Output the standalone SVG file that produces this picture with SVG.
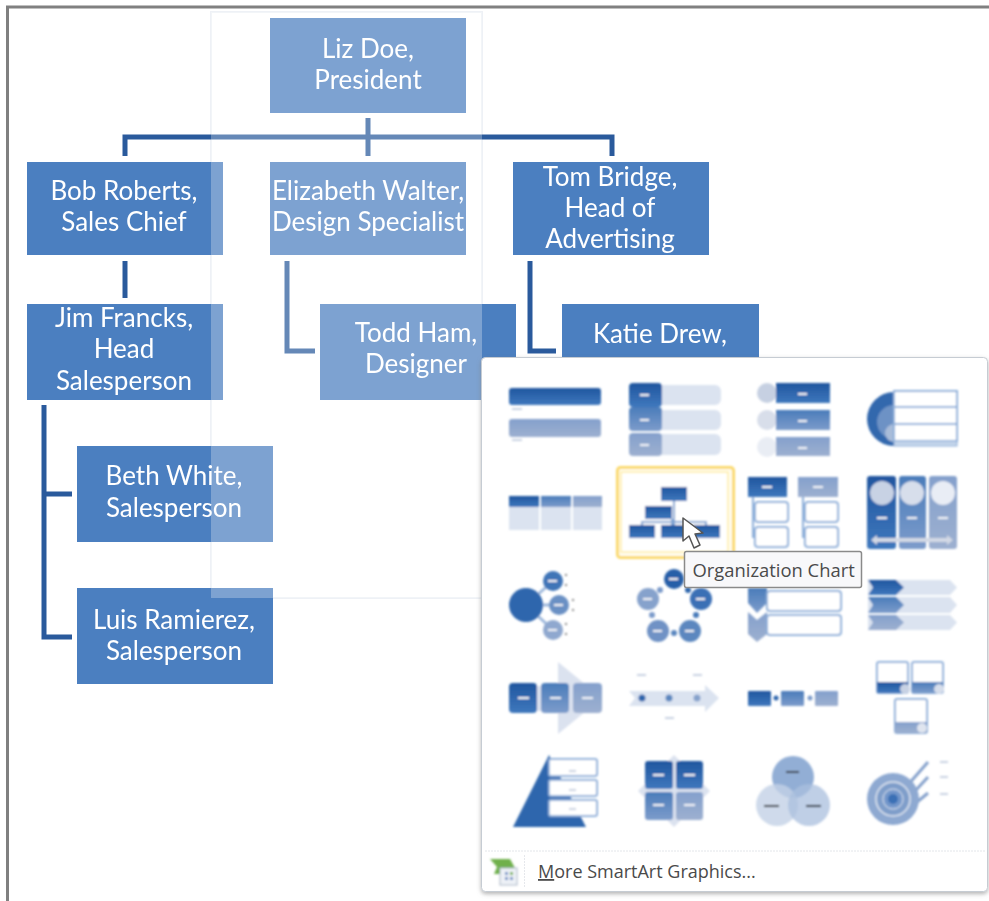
<svg xmlns="http://www.w3.org/2000/svg" width="989" height="901" viewBox="0 0 989 901">
<style>
.n{fill:#4b7fc0}
.t{font-family:Lato,"Liberation Sans",sans-serif;font-size:26px;fill:#fff;text-anchor:middle}
.c{fill:none;stroke:#2a5a9c;stroke-width:5}
.d{fill:url(#g1)}.m{fill:url(#g2)}.l{fill:url(#g3)}
.p{fill:#dbe3f0}.w{fill:#fff;stroke:#8fb0da;stroke-width:2}
.k{fill:#f2f4f8}.s{fill:#c9d2e2}
.u{font-family:"Open Sans","Liberation Sans",sans-serif;fill:#4a4a4a}
</style>
<defs>
<linearGradient id="g1" x1="0" y1="0" x2="0" y2="1"><stop offset="0" stop-color="#20569f"/><stop offset="1" stop-color="#3f78bd"/></linearGradient>
<linearGradient id="g2" x1="0" y1="0" x2="0" y2="1"><stop offset="0" stop-color="#4a7cba"/><stop offset="1" stop-color="#7d9ccb"/></linearGradient>
<linearGradient id="g3" x1="0" y1="0" x2="0" y2="1"><stop offset="0" stop-color="#84a0cc"/><stop offset="1" stop-color="#9db0d0"/></linearGradient>
<filter id="b" x="-5%" y="-5%" width="110%" height="110%"><feGaussianBlur stdDeviation="0.8"/></filter>
<filter id="b2" x="-5%" y="-5%" width="110%" height="110%"><feGaussianBlur stdDeviation="0.35"/></filter>
<filter id="sh" x="-3%" y="-3%" width="106%" height="106%"><feDropShadow dx="0" dy="2" stdDeviation="2" flood-color="#777" flood-opacity=".55"/></filter>
</defs>
<rect width="989" height="901" fill="#fff"/>
<path d="M7.500 901V7H989" fill="none" stroke="#808080" stroke-width="3"/>
<rect id="fade-edge" x="211" y="12" width="271" height="586" fill="none" stroke="#eef1f6" stroke-width="2"/>

<g id="connectors" filter="url(#b2)">
<path class="c" d="M125 156V137H612V156M368 118V156"/>
<path class="c" d="M125 261V298"/>
<path class="c" d="M287 261V351H315"/>
<path class="c" d="M530 261V351H556"/>
<path class="c" d="M44 405V637H72M44 494H72"/>
</g>
<g id="liz"><rect class="n" x="270" y="18" width="196" height="95"/></g>
<g id="bob"><rect class="n" x="27" y="162" width="196" height="93"/></g>
<g id="elizabeth"><rect class="n" x="270" y="162" width="196" height="93"/></g>
<g id="tom"><rect class="n" x="513" y="162" width="196" height="93"/></g>
<g id="jim"><rect class="n" x="27" y="304" width="196" height="96"/></g>
<g id="todd"><rect class="n" x="320" y="304" width="196" height="96"/></g>
<g id="katie"><rect class="n" x="562" y="304" width="197" height="96"/></g>
<g id="beth"><rect class="n" x="77" y="446" width="196" height="96"/></g>
<g id="luis"><rect class="n" x="77" y="588" width="196" height="96"/></g>
<rect id="fade" x="211" y="12" width="271" height="586" fill="#fff" fill-opacity=".28"/>
<g id="labels" filter="url(#b2)">
<text class="t" x="368" y="58">Liz Doe,</text><text class="t" x="368" y="89">President</text>
<text class="t" x="124" y="200">Bob Roberts,</text><text class="t" x="124" y="231">Sales Chief</text>
<text class="t" x="368" y="200">Elizabeth Walter,</text><text class="t" x="368" y="231">Design Specialist</text>
<text class="t" x="610" y="186">Tom Bridge,</text><text class="t" x="610" y="217">Head of</text><text class="t" x="610" y="248">Advertising</text>
<text class="t" x="124" y="327">Jim Francks,</text><text class="t" x="124" y="358">Head</text><text class="t" x="124" y="390">Salesperson</text>
<text class="t" x="416" y="342">Todd Ham,</text><text class="t" x="416" y="373">Designer</text>
<text class="t" x="660" y="343">Katie Drew,</text>
<text class="t" x="174" y="485">Beth White,</text><text class="t" x="174" y="517">Salesperson</text>
<text class="t" x="174" y="629">Luis Ramierez,</text><text class="t" x="174" y="660">Salesperson</text>
</g>

<g id="panel">
<rect x="481.500" y="357.500" width="506" height="534" rx="4" fill="#fff" stroke="#c6ccd3" filter="url(#sh)"/>
<g id="thumbs" filter="url(#b)">
<!-- row 1 -->
<rect class="d" x="509" y="388" width="92" height="17" rx="3"/><rect class="l" x="509" y="419" width="92" height="18" rx="3"/>
<rect class="s" x="512" y="408" width="10" height="2"/><rect class="s" x="512" y="439" width="10" height="2"/>
<rect class="p" x="655" y="385" width="66" height="20" rx="6"/><rect class="p" x="655" y="410" width="66" height="20" rx="6"/><rect class="p" x="655" y="434" width="66" height="21" rx="6"/>
<rect class="d" x="629" y="383" width="33" height="24" rx="4"/><rect class="m" x="629" y="407" width="33" height="24" rx="4"/><rect class="l" x="629" y="433" width="33" height="23" rx="4"/>
<rect class="k" x="640" y="394" width="9" height="2"/><rect class="k" x="640" y="419" width="9" height="2"/><rect class="k" x="640" y="444" width="9" height="2"/>
<circle cx="767" cy="393" r="10" fill="#c6d0e2"/><circle cx="767" cy="420" r="10" fill="#d8deea"/><circle cx="767" cy="447" r="10" fill="#e9edf4"/>
<rect class="d" x="776" y="383" width="54" height="20"/><rect class="m" x="776" y="410" width="54" height="20"/><rect class="l" x="776" y="437" width="54" height="19"/>
<rect class="k" x="798" y="393" width="9" height="2"/><rect class="k" x="798" y="420" width="9" height="2"/><rect class="k" x="798" y="447" width="9" height="2"/>
<circle cx="894" cy="419" r="27" fill="#3268ad"/><circle cx="894" cy="422" r="17" fill="#6d92c5"/><circle cx="894" cy="433" r="9" fill="#a8bcd9"/>
<rect class="w" x="894" y="391" width="63" height="16"/><rect class="w" x="894" y="407" width="63" height="17"/><rect class="w" x="894" y="424" width="63" height="17"/><rect x="894" y="441" width="63" height="5" fill="#c5d5ea" stroke="#8fb0da"/>
<!-- row 2 -->
<rect class="p" x="509" y="507" width="30" height="23"/><rect class="p" x="541" y="507" width="30" height="23"/><rect class="p" x="573" y="507" width="29" height="23"/>
<rect class="d" x="509" y="496" width="30" height="11"/><rect class="m" x="541" y="496" width="30" height="11"/><rect class="l" x="573" y="496" width="29" height="11"/>
<rect x="617.500" y="467.500" width="116" height="90" rx="3" fill="#fffdf2" stroke="#fbd96b" stroke-width="3"/>
<rect x="621" y="472" width="107" height="80" fill="#fff" stroke="#fff1b5" stroke-width="2"/>
<path d="M674 501V525M672 519V525M642 525V522H706V525" fill="none" stroke="#7ea3d2" stroke-width="2"/>
<rect class="d" x="661" y="487" width="26" height="14"/><rect class="d" x="645" y="506" width="27" height="13"/><rect class="d" x="629" y="525" width="26" height="13"/><rect class="d" x="661" y="525" width="26" height="13"/><rect class="d" x="693" y="525" width="27" height="13"/>
<rect class="d" x="748" y="477" width="39" height="20"/><rect class="l" x="798" y="477" width="40" height="20"/>
<rect class="k" x="762" y="486" width="10" height="2"/><rect class="k" x="813" y="486" width="10" height="2"/>
<path d="M753 497V537H755M753 512H755M803 497V537H805M803 512H805" fill="none" stroke="#8fb0da" stroke-width="2"/>
<rect class="w" x="755" y="502" width="33" height="20" rx="3"/><rect class="w" x="755" y="527" width="33" height="20" rx="3"/><rect class="w" x="805" y="502" width="33" height="20" rx="3"/><rect class="w" x="805" y="527" width="33" height="20" rx="3"/>
<rect class="d" x="867" y="476" width="29" height="73" rx="3"/><rect class="m" x="899" y="476" width="27" height="73" rx="3"/><rect class="l" x="929" y="476" width="28" height="73" rx="3"/>
<circle cx="882" cy="493" r="12" fill="#c8d2e4"/><circle cx="912" cy="493" r="12" fill="#d7deeb"/><circle cx="943" cy="493" r="12" fill="#e9edf5"/>
<rect class="k" x="877" y="517" width="10" height="2"/><rect class="k" x="907" y="517" width="10" height="2"/><rect class="k" x="938" y="517" width="10" height="2"/>
<path d="M871 540L877 535V538H947V535L953 540L947 545V542H877V545Z" fill="#d3d9e5"/>
<!-- row 3 -->
<path d="M526 605L553 581M526 605H559M526 605L553 630" stroke="#9db8dc" stroke-width="3"/>
<circle cx="526" cy="605" r="17" fill="#2f66ad"/><circle cx="553" cy="581" r="10" fill="#3f74b7"/><circle cx="559" cy="605" r="10" fill="#6a90c4"/><circle cx="553" cy="630" r="10" fill="#8fa8cf"/>
<rect class="k" x="548" y="580" width="9" height="2"/><rect class="k" x="554" y="604" width="9" height="2"/><rect class="k" x="548" y="629" width="9" height="2"/>
<g fill="#8a8a8a"><rect x="565" y="574" width="2" height="2"/><rect x="565" y="584" width="2" height="2"/><rect x="572" y="599" width="2" height="2"/><rect x="572" y="609" width="2" height="2"/><rect x="565" y="623" width="2" height="2"/><rect x="565" y="633" width="2" height="2"/></g>
<circle cx="674" cy="579" r="10" fill="#275ea8"/><circle cx="701" cy="599" r="11" fill="#3a70b5"/><circle cx="690" cy="631" r="11" fill="#5c87bf"/><circle cx="658" cy="631" r="11" fill="#6f92c5"/><circle cx="648" cy="599" r="11" fill="#86a2cc"/>
<circle cx="660" cy="590" r="3" fill="#7d9ccb"/><circle cx="688" cy="590" r="3" fill="#2f66ad"/><circle cx="696" cy="615" r="3" fill="#4a7cba"/><circle cx="674" cy="633" r="3" fill="#5c87bf"/><circle cx="652" cy="615" r="3" fill="#7d9ccb"/>
<rect class="k" x="669" y="578" width="9" height="2"/><rect class="k" x="696" y="598" width="9" height="2"/><rect class="k" x="685" y="630" width="9" height="2"/><rect class="k" x="653" y="630" width="9" height="2"/><rect class="k" x="643" y="598" width="9" height="2"/>
<path class="m" d="M748 588H767V603L757 613L748 603Z"/><path class="l" d="M748 612L757 620L767 612V634L757 642L748 634Z"/>
<rect class="w" x="767" y="591" width="74" height="20" rx="3"/><rect class="w" x="767" y="615" width="74" height="20" rx="3"/>
<path class="p" d="M868 580H950L957 587.500L950 595H868ZM868 597H950L957 605L950 613H868ZM868 615H950L957 622.500L950 630H868Z"/>
<path class="d" d="M868 580H896L904 587.500L896 595H868L873 587.500Z"/><path class="m" d="M868 597H896L904 605L896 613H868L873 605Z"/><path class="l" d="M868 615H896L904 622.500L896 630H868L873 622.500Z"/>
<!-- row 4 -->
<path d="M515 686H558V662L602 698L558 734V711H515Z" fill="#dbe2ef"/>
<rect class="d" x="509" y="683" width="28" height="30" rx="4"/><rect class="m" x="541" y="683" width="28" height="30" rx="4"/><rect class="l" x="573" y="683" width="29" height="30" rx="4"/>
<rect class="k" x="518" y="697" width="11" height="2"/><rect class="k" x="550" y="697" width="11" height="2"/><rect class="k" x="582" y="697" width="11" height="2"/>
<path class="p" d="M629 691H705V685L719 698L705 712V706H629L635 698Z"/>
<circle cx="642" cy="698" r="3.500" fill="#2f66ad"/><circle cx="669" cy="698" r="3.500" fill="#5c87bf"/><circle cx="697" cy="698" r="3.500" fill="#86a2cc"/>
<rect class="s" x="637" y="674" width="9" height="2"/><rect class="s" x="693" y="674" width="9" height="2"/><rect class="s" x="665" y="717" width="9" height="2"/>
<rect class="d" x="748" y="691" width="23" height="15" rx="1"/><rect class="m" x="781" y="691" width="23" height="15" rx="1"/><rect class="l" x="815" y="691" width="23" height="15" rx="1"/>
<circle cx="776" cy="698" r="2.500" fill="#2f66ad"/><circle cx="810" cy="698" r="2.500" fill="#7d9ccb"/>
<rect class="w" x="877" y="662" width="31" height="31" rx="2"/><rect class="d" x="877" y="682" width="31" height="11"/><circle cx="905" cy="689" r="5" fill="#c8d2e4"/>
<rect class="w" x="912" y="662" width="31" height="31" rx="2"/><rect class="m" x="912" y="682" width="31" height="11"/><circle cx="939" cy="689" r="5" fill="#d7deeb"/>
<rect class="w" x="895" y="699" width="32" height="34" rx="2"/><rect class="l" x="895" y="722" width="32" height="11"/><circle cx="922" cy="728" r="5" fill="#e0e5ef"/>
<!-- row 5 -->
<path d="M549 755L586 827H513Z" fill="#2f66ad"/>
<rect class="w" x="549" y="759" width="48" height="17" rx="2"/><rect class="w" x="549" y="780" width="48" height="16" rx="2"/><rect class="w" x="549" y="800" width="48" height="16" rx="2"/>
<rect class="s" x="569" y="770" width="7" height="2"/><rect class="s" x="569" y="789" width="7" height="2"/><rect class="s" x="569" y="808" width="7" height="2"/>
<path d="M674 755L710 791L674 827L638 791Z" fill="#dbe2ef"/>
<rect class="d" x="645" y="761" width="28" height="28" rx="3"/><rect class="d" x="676" y="761" width="27" height="28" rx="3"/><rect class="m" x="645" y="792" width="28" height="28" rx="3"/><rect class="l" x="676" y="792" width="27" height="28" rx="3"/>
<rect class="k" x="653" y="774" width="11" height="2"/><rect class="k" x="684" y="774" width="11" height="2"/><rect class="k" x="653" y="804" width="11" height="2"/><rect class="k" x="684" y="804" width="11" height="2"/>
<circle cx="793" cy="777" r="21" fill="#92aed5"/><circle cx="777" cy="805" r="21" fill="#c3d1e6" fill-opacity=".8"/><circle cx="809" cy="805" r="21" fill="#a9bfdd" fill-opacity=".75"/>
<rect x="786" y="771" width="13" height="2" fill="#333"/><rect x="764" y="805" width="15" height="2" fill="#333"/><rect x="806" y="805" width="15" height="2" fill="#333"/>
<path d="M899 795L928 762M905 802L928 777M905 812L928 793" stroke="#86a2cc" stroke-width="3" fill="none"/>
<circle cx="893" cy="799" r="26" fill="#8ea9d1"/><circle cx="893" cy="799" r="17" fill="#7f9eca" stroke="#dfe6f1" stroke-width="1.500"/><circle cx="893" cy="799" r="10" fill="#7397cb" stroke="#dfe6f1"/><circle cx="893" cy="799" r="5" fill="#3a70b5"/>
<rect class="s" x="940" y="761" width="8" height="2"/><rect class="s" x="940" y="776" width="8" height="2"/><rect class="s" x="940" y="793" width="8" height="2"/>
<!-- footer icon -->
<path d="M490 859H510L515 868L510 874H494L497 867Z" fill="#6fb04c"/>
<rect x="500" y="868" width="17" height="17" fill="#eef2f7" stroke="#a9b6c6"/>
<rect x="505" y="872" width="3" height="3" fill="#6f92c5"/><rect x="510" y="872" width="3" height="3" fill="#6fb04c"/><rect x="505" y="877" width="3" height="3" fill="#6f92c5"/><rect x="510" y="877" width="3" height="3" fill="#6f92c5"/>
</g>
<path d="M485 851H985" stroke="#e3e6ea" stroke-dasharray="2 1"/>
<path d="M524.500 855V888" stroke="#e6e8ec" stroke-dasharray="2 1"/>
<path id="cursor" d="M683 518V541L689 536L694 548L700 545L695 534L703 533Z" fill="#fff" stroke="#555" stroke-width="1.500" stroke-linejoin="round"/>
<g id="tooltip">
<rect x="684.500" y="551.500" width="177" height="36" rx="2" fill="#f8f8fa" stroke="#8a8a8a" stroke-width="1.500"/>
<text class="u" x="692.500" y="577" font-size="18.400">Organization Chart</text>
</g>
<text class="u" x="538" y="878" font-size="18"><tspan text-decoration="underline">M</tspan>ore SmartArt Graphics...</text>
</g>
</svg>
